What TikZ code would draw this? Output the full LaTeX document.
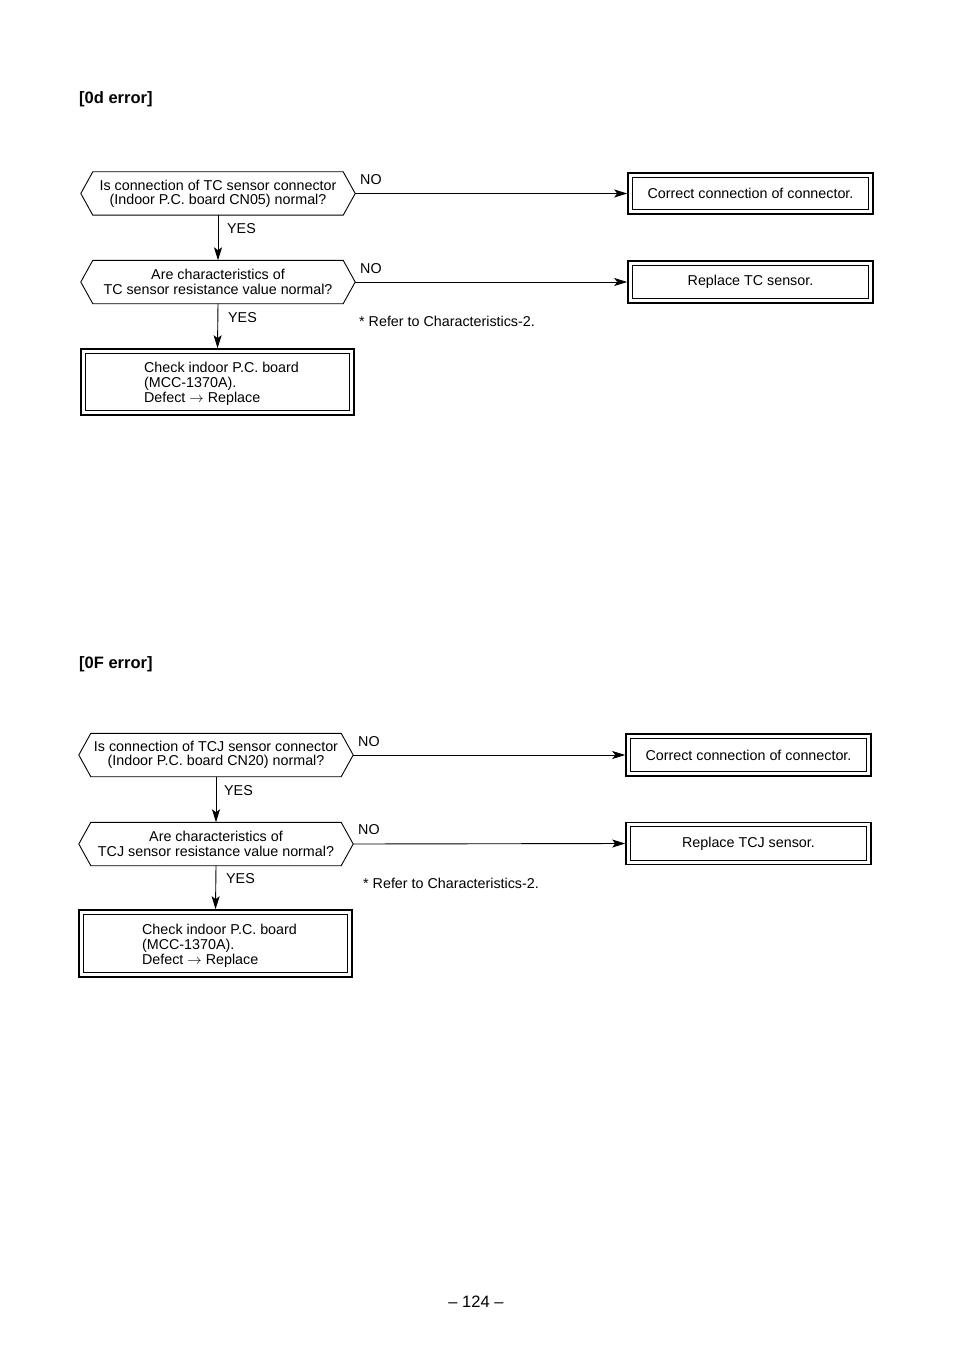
\documentclass[tikz,border=0pt]{standalone}
\usepackage{fontspec}
\setmainfont{Liberation Sans}
\usetikzlibrary{arrows.meta,calc}
\begin{document}
\begin{tikzpicture}[x=1pt,y=-1pt,
  txt/.style={font=\fontsize{14.3}{14.3}\selectfont, inner sep=0pt},
  ttl/.style={font=\fontsize{16.5}{18}\selectfont\bfseries, inner sep=0pt, anchor=west},
  lbl/.style={txt, anchor=west},
  hexbox/.style={txt, minimum width=274pt, minimum height=43pt, align=center},
  dbox/.style={txt, draw, line width=1.6pt, align=center},
  conn/.style={line width=0.9pt, -{Stealth[length=13pt,width=8pt,inset=3pt]}}
]
\useasboundingbox (0,0) rectangle (954,1348);
\newcommand{\hexoutline}[1]{%
  \draw[line width=0.9pt] (#1.west) -- ([xshift=12pt]#1.north west) -- ([xshift=-12pt]#1.north east) -- (#1.east) -- ([xshift=-12pt]#1.south east) -- ([xshift=12pt]#1.south west) -- cycle;}
\newcommand{\innerframe}[1]{%
  \draw[line width=0.8pt] ([xshift=5pt,yshift=-5pt]#1.north west) rectangle ([xshift=-5pt,yshift=5pt]#1.south east);}
\newcommand{\myarrow}{\smash{\raisebox{0pt}[0pt][0pt]{$\rightarrow$}}}

% ---------- [0d error] ----------
\node[ttl] (t1) at (79,99) {[0d error]};

\node[hexbox] (a1) at (218,193.5) {Is connection of TC sensor connector\\(Indoor P.C. board CN05) normal?};
\hexoutline{a1}
\node[hexbox] (a2) at (218,282) {Are characteristics of\\TC sensor resistance value normal?};
\hexoutline{a2}

\node[dbox, minimum width=245pt, minimum height=41pt] (b1) at (750.5,193.5) {Correct connection of connector.};
\innerframe{b1}
\node[dbox, minimum width=245pt, minimum height=42pt] (b2) at (750.5,282) {Replace TC sensor.};
\innerframe{b2}
\node[dbox, minimum width=273pt, minimum height=66pt] (c1) at (217.5,382) {};
\innerframe{c1}
\node[txt, align=left, font=\fontsize{14.3}{15}\selectfont] (c1t) at ([xshift=4pt,yshift=-2pt]c1.center) {Check indoor P.C. board\\(MCC-1370A).\\Defect \myarrow{} Replace};

\draw[conn] (a1.east) -- (b1.west);
\draw[conn] (a2.east) -- (b2.west);
\draw[conn] (a1.south) -- (a2.north);
\draw[conn] (a2.south) -- (c1.north);

\node[lbl] (n1) at (360,180) {NO};
\node[lbl] (n2) at (360,269) {NO};
\node[lbl] (y1) at (227,229) {YES};
\node[lbl] (y2) at (228,318) {YES};
\node[lbl] (r1) at (359,321) {* Refer to Characteristics-2.};

% ---------- [0F error] ----------
\node[ttl] (t2) at (79,664) {[0F error]};

\node[hexbox] (d1) at (216,755) {Is connection of TCJ sensor connector\\(Indoor P.C. board CN20) normal?};
\hexoutline{d1}
\node[hexbox] (d2) at (216,844) {Are characteristics of\\TCJ sensor resistance value normal?};
\hexoutline{d2}

\node[dbox, minimum width=245pt, minimum height=42pt] (e1) at (748.5,755) {Correct connection of connector.};
\innerframe{e1}
\node[dbox, minimum width=245pt, minimum height=42pt] (e2) at (748.5,843.5) {Replace TCJ sensor.};
\innerframe{e2}
\node[dbox, minimum width=273pt, minimum height=67pt] (f1) at (215.5,943.5) {};
\innerframe{f1}
\node[txt, align=left, font=\fontsize{14.3}{15}\selectfont] (f1t) at ([xshift=4pt,yshift=-2pt]f1.center) {Check indoor P.C. board\\(MCC-1370A).\\Defect \myarrow{} Replace};

\draw[conn] (d1.east) -- (e1.west);
\draw[conn] (d2.east) -- (e2.west);
\draw[conn] (d1.south) -- (d2.north);
\draw[conn] (d2.south) -- (f1.north);

\node[lbl] (n3) at (358,742) {NO};
\node[lbl] (n4) at (358,830) {NO};
\node[lbl] (y3) at (224,791) {YES};
\node[lbl] (y4) at (226,879) {YES};
\node[lbl] (r2) at (363,883) {* Refer to Characteristics-2.};

% page number
\node[txt, font=\fontsize{16.5}{18}\selectfont] (pg) at (476,1302) {– 124 –};
\end{tikzpicture}
\end{document}
